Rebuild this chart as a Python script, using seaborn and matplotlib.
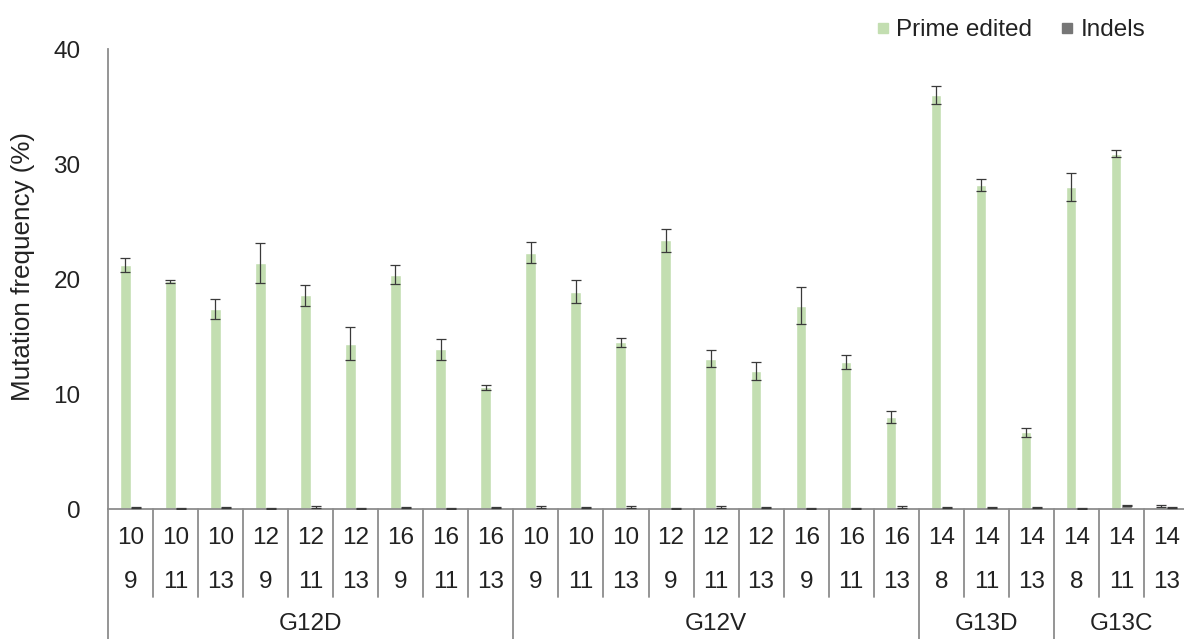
import numpy as np
import pandas as pd
import matplotlib
matplotlib.use("Agg")
import matplotlib.pyplot as plt
from matplotlib.lines import Line2D
import seaborn as sns

# ---------------- data ----------------
groups = ["G12D", "G12V", "G13D", "G13C"]
group_sizes = [9, 9, 3, 3]
row1_labels = [10, 10, 10, 12, 12, 12, 16, 16, 16,
               10, 10, 10, 12, 12, 12, 16, 16, 16,
               14, 14, 14,
               14, 14, 14]
row2_labels = [9, 11, 13, 9, 11, 13, 9, 11, 13,
               9, 11, 13, 9, 11, 13, 9, 11, 13,
               8, 11, 13,
               8, 11, 13]
prime_edited = [21.2, 19.8, 17.4, 21.4, 18.6, 14.4, 20.4, 13.9, 10.6,
                22.3, 18.9, 14.5, 23.4, 13.1, 12.0, 17.7, 12.8, 8.0,
                36.0, 28.2, 6.7,
                28.0, 30.9, 0.3]
prime_err = [0.6, 0.1, 0.9, 1.7, 0.9, 1.4, 0.8, 0.9, 0.2,
             0.9, 1.0, 0.4, 1.0, 0.7, 0.8, 1.6, 0.6, 0.5,
             0.8, 0.5, 0.4,
             1.2, 0.3, 0.1]
indels = [0.15, 0.1, 0.15, 0.1, 0.2, 0.1, 0.15, 0.1, 0.15,
          0.2, 0.15, 0.2, 0.1, 0.2, 0.15, 0.1, 0.1, 0.2,
          0.15, 0.15, 0.15,
          0.1, 0.3, 0.15]
indel_err = [0.05] * 24
series = ["Prime edited", "Indels"]
colors = {"Prime edited": "#c3deb1", "Indels": "#767676"}

# -------------- build table ------------
group_of = []
for g, n in zip(groups, group_sizes):
    group_of += [g] * n
keys = [f"{g} {a}/{b}" for g, a, b in zip(group_of, row1_labels, row2_labels)]
df = pd.DataFrame({
    "key": keys * 2,
    "series": ["Prime edited"] * 24 + ["Indels"] * 24,
    "value": prime_edited + indels,
})

# -------------- style -------------------
sns.set_theme(style="white")
plt.rcParams["font.family"] = ["Liberation Sans", "DejaVu Sans"]
txt_color = "#222222"
line_color = "#8c8c8c"
FS = 17.5

fig = plt.figure(figsize=(11.84, 6.39), dpi=100)
W, H = 1184, 639
ax_left, ax_right, ax_top, ax_bottom = 108, 1189, 49, 509.3
ax = fig.add_axes([ax_left / W, (H - ax_bottom) / H,
                   (ax_right - ax_left) / W, (ax_bottom - ax_top) / H])

sns.barplot(data=df, x="key", y="value", hue="series", order=keys,
            hue_order=series, palette=colors, width=0.47, errorbar=None,
            saturation=1, ax=ax, legend=False)

# error bars at the bar centres produced by seaborn
for cont, vals, errs in zip(ax.containers, [prime_edited, indels], [prime_err, indel_err]):
    xs = [p.get_x() + p.get_width() / 2 for p in cont.patches]
    ax.errorbar(xs, vals, yerr=errs, fmt="none", ecolor="#3a3a3a",
                elinewidth=0.9, capsize=3.3, capthick=0.9, zorder=5)

ax.set_xlim(-0.5, len(keys) - 0.5)
ax.set_ylim(0, 40)
ax.set_yticks([0, 10, 20, 30, 40])
ax.tick_params(axis="y", length=0, pad=19.7, labelsize=FS, labelcolor=txt_color)
ax.set_xticks([])
ax.set_xlabel("")
ax.set_ylabel("Mutation frequency (%)", fontsize=18.7, color=txt_color, va="center")
ax.yaxis.set_label_coords(-0.0786, 0.527)

for s in ["top", "right"]:
    ax.spines[s].set_visible(False)
for s in ["left", "bottom"]:
    ax.spines[s].set_color(line_color)
    ax.spines[s].set_linewidth(1.3)

# -------------- multi-level category axis --------------
trans = ax.get_xaxis_transform()
def yf(ypix):
    return (ax_bottom - ypix) / (ax_bottom - ax_top)

for i, (a, b) in enumerate(zip(row1_labels, row2_labels)):
    ax.text(i, yf(538), str(a), transform=trans, ha="center", va="center",
            fontsize=FS, color=txt_color)
    ax.text(i, yf(582), str(b), transform=trans, ha="center", va="center",
            fontsize=FS, color=txt_color)

bounds = np.cumsum([0] + group_sizes)
group_edges = set(bounds.tolist())
for k in range(len(keys) + 1):
    xb = k - 0.5
    if k in group_edges:
        ax.plot([xb, xb], [0, yf(660)], transform=trans, color=line_color,
                lw=1.3, clip_on=False)
    else:
        ax.plot([xb, xb], [0, yf(597)], transform=trans, color=line_color,
                lw=1.3, clip_on=False)

for g, s, e in zip(groups, bounds[:-1], bounds[1:]):
    ax.text((s + e - 1) / 2, yf(624), g, transform=trans, ha="center",
            va="center", fontsize=FS, color=txt_color)

# -------------- legend --------------
handles = [Line2D([], [], marker="s", ls="", markersize=7.5,
                  markerfacecolor=colors[s], markeredgecolor=colors[s]) for s in series]
fig.legend(handles, series, loc="upper right", bbox_to_anchor=(0.984, 1.0),
           ncol=2, frameon=False, fontsize=FS, handletextpad=0.2,
           columnspacing=1.1, borderpad=0.3, labelcolor=txt_color,
           handlelength=0.7)

fig.savefig("out.png", dpi=100)
